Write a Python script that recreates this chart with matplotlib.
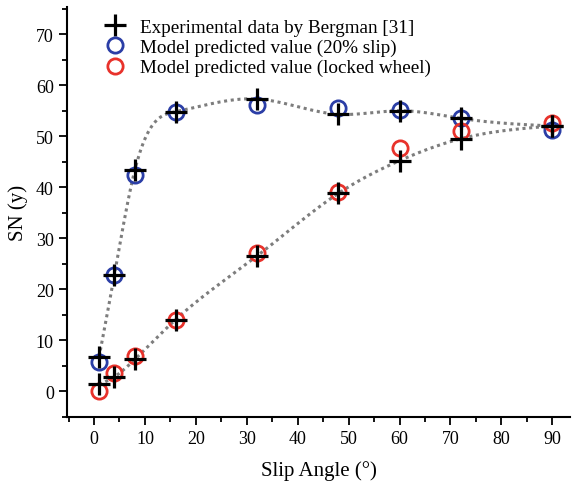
import numpy as np
import matplotlib.pyplot as plt
from matplotlib.ticker import MultipleLocator

# data
angles = [1, 4, 8, 16, 32, 48, 60, 72, 90]
exp_slip = [6.7, 22.8, 43.3, 54.8, 57.3, 54.3, 55.0, 53.5, 52.0]
exp_locked = [1.3, 2.8, 6.2, 14.0, 26.5, 38.8, 45.2, 49.5, 52.0]
model_slip = [5.7, 22.8, 42.4, 54.7, 56.2, 55.6, 55.2, 53.6, 51.2]
model_locked = [0.0, 3.6, 6.9, 14.0, 27.1, 39.1, 47.6, 51.0, 52.6]


def smooth(x, y, n=300):
    """Natural cubic spline through (x, y), evaluated on n points."""
    x = np.asarray(x, float)
    y = np.asarray(y, float)
    k = len(x)
    h = np.diff(x)
    A = np.zeros((k, k))
    r = np.zeros(k)
    A[0, 0] = A[-1, -1] = 1.0
    for i in range(1, k - 1):
        A[i, i - 1] = h[i - 1]
        A[i, i] = 2 * (h[i - 1] + h[i])
        A[i, i + 1] = h[i]
        r[i] = 3 * ((y[i + 1] - y[i]) / h[i] - (y[i] - y[i - 1]) / h[i - 1])
    c = np.linalg.solve(A, r)
    b = (y[1:] - y[:-1]) / h - h * (2 * c[:-1] + c[1:]) / 3
    d = (c[1:] - c[:-1]) / (3 * h)
    xs = np.linspace(x[0], x[-1], n)
    j = np.clip(np.searchsorted(x, xs) - 1, 0, k - 2)
    t = xs - x[j]
    return xs, y[j] + b[j] * t + c[j] * t ** 2 + d[j] * t ** 3


plt.rcParams["font.family"] = ["Liberation Serif", "DejaVu Serif"]

fig = plt.figure(figsize=(5.73, 4.85), dpi=100)
ax = fig.add_axes([0.117, 0.138, 0.878, 0.845])

for ys in (exp_slip, exp_locked):
    xs, ss = smooth(angles, ys)
    ax.plot(xs, ss, ls=(0, (1, 1.2)), color="#7d7d7d", lw=2.2, zorder=1)

ax.plot(angles, model_slip, "o", ms=11, mfc="none", mec="#2b3ea6", mew=2,
        label="Model predicted value (20% slip)", zorder=2)
ax.plot(angles, model_locked, "o", ms=11, mfc="none", mec="#e8322b", mew=2,
        label="Model predicted value (locked wheel)", zorder=2)
ax.plot(angles, exp_slip, "+", ms=16, color="black", mew=2.3,
        label="Experimental data by Bergman [31]", zorder=3)
ax.plot(angles, exp_locked, "+", ms=16, color="black", mew=2.3, zorder=3)

ax.set_xlim(-5.3, 93.5)
ax.set_ylim(-5.1, 75.3)
ax.xaxis.set_major_locator(MultipleLocator(10))
ax.xaxis.set_minor_locator(MultipleLocator(5))
ax.yaxis.set_major_locator(MultipleLocator(10))
ax.yaxis.set_minor_locator(MultipleLocator(5))
ax.set_xticks(range(0, 100, 10))
ax.tick_params(which="major", length=6, width=1.3, labelsize=13, direction="out")
ax.tick_params(which="minor", length=3.5, width=1.3, direction="out")
for side in ("top", "right"):
    ax.spines[side].set_visible(False)
for side in ("left", "bottom"):
    ax.spines[side].set_linewidth(1.5)

ax.set_xlabel("Slip Angle (°)", fontsize=15, labelpad=9)
ax.set_ylabel("SN (y)", fontsize=15, labelpad=6)

h, l = ax.get_legend_handles_labels()
order = [2, 0, 1]
ax.legend([h[i] for i in order], [l[i] for i in order], loc="upper left",
          bbox_to_anchor=(0.038, 1.015), frameon=False, fontsize=13.8,
          handletextpad=0.7, labelspacing=0.15, handlelength=1.2)

fig.savefig("out.png", dpi=100)
